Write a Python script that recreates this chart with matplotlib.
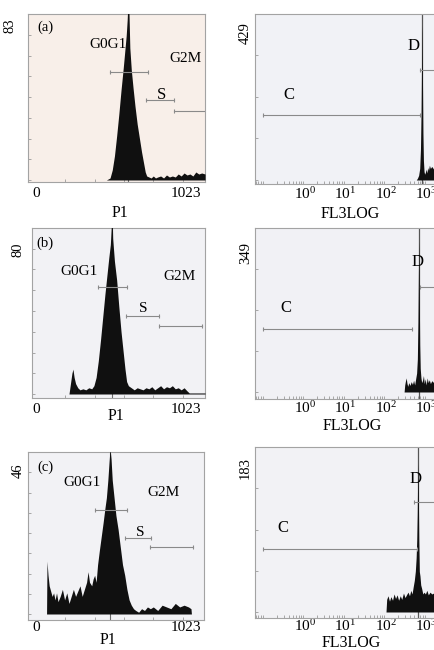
import matplotlib
matplotlib.use('Agg')
import matplotlib.pyplot as plt
from matplotlib.ticker import MultipleLocator, FixedLocator, LogLocator, NullFormatter
from matplotlib.transforms import ScaledTranslation

plt.rcParams['font.family'] = ['Liberation Serif', 'DejaVu Serif']
plt.rcParams['mathtext.fontset'] = 'custom'
plt.rcParams['mathtext.rm'] = 'Liberation Serif'
plt.rcParams['mathtext.it'] = 'Liberation Serif:italic'

# ---------------- data ----------------
panel_letters = ['(a)', '(b)', '(c)']
dna_ymax = [83, 80, 46]
fl3_ymax = [429, 349, 183]
dna_xticks = [0, 1023]
dna_xticklabels = ['0', '1023']
fl3_xticks = [1, 10, 100, 1000]
fl3_xticklabels = [r'$10^0$', r'$10^1$', r'$10^2$', r'$10^3$']
dna_xlabel = 'P1'
fl3_xlabel = 'FL3LOG'

# DNA content histograms (channel, count)
a_ch = [0, 480, 505, 520, 535, 550, 565, 580, 595, 605, 615, 622, 628, 634, 640, 650, 662, 675, 690, 705,
        720, 735, 745, 755, 770, 785, 800, 815, 830, 850, 870, 890, 910, 930, 950, 970, 990, 1010, 1030, 1050,
        1070, 1090, 1110, 1130, 1153]
a_cnt = [0, 0, 1, 5, 12, 22, 33, 45, 56, 64, 72, 80, 90, 84, 66, 55, 46, 37, 28, 21,
         14, 8, 4, 2, 1.5, 1, 2, 1, 1.5, 2, 1, 2.5, 1.5, 2, 1.5, 3, 2, 3.5, 2.5, 3,
         2, 4, 3, 3.5, 3]
b_ch = [0, 225, 235, 245, 252, 260, 270, 285, 300, 320, 340, 360, 380, 395, 410, 425, 440, 455, 470, 485,
        497, 507, 513, 518, 523, 535, 550, 565, 580, 595, 607, 618, 630, 650, 670, 690, 710, 730, 750, 770,
        790, 810, 830, 850, 870, 890, 910, 930, 950, 970, 990, 1010, 1030, 1045, 1153]
b_cnt = [0, 0, 5, 10, 12, 8, 5, 3, 2, 2.5, 2, 3, 2.5, 4, 8, 16, 26, 37, 48, 58,
         66, 72, 80, 90, 75, 64, 55, 42, 30, 20, 12, 6, 4, 3, 2, 3, 2.5, 2, 3, 2.5,
         3.5, 2, 3, 4, 2.5, 3.5, 3, 4, 2.5, 3, 2, 3, 1.5, 0.5, 0.5]
c_ch = [0, 72, 75, 82, 90, 100, 110, 120, 130, 140, 150, 165, 180, 195, 210, 225, 240, 255, 270, 285,
        300, 315, 330, 345, 355, 365, 380, 390, 400, 410, 420, 432, 445, 458, 470, 480, 490, 498, 505, 512,
        520, 530, 545, 560, 575, 590, 605, 620, 635, 650, 665, 680, 700, 720, 740, 760, 780, 800, 830, 860,
        890, 920, 950, 980, 1010, 1040, 1057, 1060, 1146]
c_cnt = [0, 0, 15, 11, 8, 6.5, 5, 6, 4, 6, 3.5, 5, 7, 4, 6, 3, 5, 7, 5, 6.5,
         8, 5, 7, 9, 12, 9, 8, 10, 11, 9, 14, 18, 22, 26, 30, 33, 38, 43, 47, 44,
         38, 34, 28, 24, 19, 14, 11, 7, 4, 2.5, 1.5, 1, 0.5, 1.5, 1, 2, 1.5, 2, 1, 2.5,
         2, 1.5, 3, 2, 2.5, 2, 1.5, 0, 0]

# FL3 (log) histograms (fluorescence, count)
ra_x = [560, 600, 640, 680, 710, 735, 755, 770, 780, 795, 815, 840, 870, 900, 940, 980, 1020, 1070, 1120, 1180,
        1250, 1350, 1500, 1700, 2000]
ra_y = [0, 5, 12, 30, 80, 170, 300, 400, 380, 260, 120, 50, 22, 15, 20, 28, 18, 32, 25, 38,
        30, 35, 28, 32, 30]
rb_x = [280, 290, 300, 315, 330, 345, 365, 390, 420, 450, 480, 510, 540, 570, 595, 615, 630, 645, 655, 665,
        680, 700, 730, 760, 800, 840, 880, 930, 980, 1040, 1100, 1170, 1250, 1350, 1500, 1700, 2000]
rb_y = [0, 15, 22, 30, 18, 12, 20, 14, 22, 16, 25, 15, 28, 40, 70, 150, 250, 320, 290, 200,
        100, 50, 30, 20, 25, 35, 18, 28, 15, 30, 20, 26, 18, 24, 20, 22, 20]
rc_x = [100, 104, 112, 122, 132, 145, 158, 172, 188, 205, 225, 245, 270, 295, 320, 350, 380, 410, 440, 470,
        500, 530, 555, 575, 592, 605, 617, 630, 645, 665, 690, 720, 760, 810, 870, 940, 1020, 1110, 1220, 1350,
        1500, 1700, 2000]
rc_y = [0, 14, 18, 12, 17, 13, 20, 15, 19, 13, 18, 14, 21, 16, 19, 22, 18, 24, 20, 28,
        35, 45, 60, 80, 110, 150, 165, 130, 80, 45, 40, 30, 26, 20, 22, 20, 24, 19, 22, 20,
        21, 18, 20]

# gates: [start, end, level]
g0g1_gate = [[505, 764, 54], [423, 621, 51.6], [402, 621, 29.5]]
s_gate = [[750, 941, 40], [614, 839, 37.6], [607, 784, 21.6]]
g2m_gate = [[941, 1170, 34.5], [839, 1132, 32.8], [777, 1071, 19.0]]
c_gate = [[0.092, 692, 168], [0.092, 438, 134], [0.092, 582, 70]]
d_gate = [[692, 5000, 284], [692, 5000, 223], [490, 5000, 122]]
dna_peak_line = [627, 518, 505]
fl3_peak_line = [774, 653, 617]

dna_hists = [(a_ch, a_cnt), (b_ch, b_cnt), (c_ch, c_cnt)]
fl3_hists = [(ra_x, ra_y), (rb_x, rb_y), (rc_x, rc_y)]

# ---------------- layout (pixels) ----------------
W, H = 434, 650
fig = plt.figure(figsize=(W / 100, H / 100), dpi=100)
fig.patch.set_facecolor('white')

left_rect = [(28, 14, 205, 182), (32, 228, 205, 398), (28, 452, 204, 620)]
right_rect = [(255, 14, 470, 184), (255, 228, 470, 399), (255, 447, 470, 618)]
left_base = [180, 394, 614]
right_base = [180, 392, 612]
left_bg = ['#f8efe9', '#f2f2f5', '#f2f2f5']
right_bg = ['#f1f2f6', '#f1f1f5', '#f2f2f5']

left_ypad = [11, 7, 3]
left_yoff = [4, 15, 11]
right_ypad = [3, 3, 3]
right_yoff = [8, 14, 10]
left_xpad = [3.5, 3.5, 1.0]
right_xpad = [1.5, 1.0, 0.3]

left_xlabel_pos = [(120, 205), (116, 408), (108, 632)]
right_xlabel_pos = [(350, 206), (352, 418), (351, 635)]

left_text_pos = [
    {'letter': (45, 27), 'G0G1': (108, 45), 'G2M': (185, 58), 'S': (162, 95)},
    {'letter': (45, 243), 'G0G1': (79, 272), 'G2M': (180, 277), 'S': (143, 309)},
    {'letter': (45, 467), 'G0G1': (82, 482), 'G2M': (164, 493), 'S': (140, 532)},
]
right_text_pos = [
    {'C': (289, 95), 'D': (414, 46)},
    {'C': (286, 308), 'D': (418, 262)},
    {'C': (283, 528), 'D': (416, 479)},
]

X0_PX, CH_PER_PX = 36, 6.82          # linear channel axis mapping
LOG0_PX, PX_PER_DEC = 305, 40.5      # log axis mapping

spine_c = '#a3a3a3'
gate_c = '#8a8a8a'
fill_c = '#101010'


def fig_rect(r):
    L, T, R, B = r
    return [L / W, 1 - B / H, (R - L) / W, (B - T) / H]


def ax_frac(r, x, y):
    L, T, R, B = r
    return (x - L) / (R - L), (B - y) / (B - T)


def style_axes(ax, bg):
    ax.set_facecolor(bg)
    for s in ax.spines.values():
        s.set_color(spine_c)
        s.set_linewidth(0.8)
    ax.tick_params(axis='both', which='major', length=0, labelsize=11, colors='black')
    ax.tick_params(axis='both', which='minor', length=2.5, width=0.6, direction='in', colors='#9a9a9a')


def offset_ylabels(ax, off_px):
    for lab in ax.get_yticklabels():
        lab.set_transform(lab.get_transform() + ScaledTranslation(0, -off_px / 100, fig.dpi_scale_trans))


for i in range(3):
    # ---------- DNA histogram panel ----------
    r = left_rect[i]
    L, T, R, B = r
    ax = fig.add_axes(fig_rect(r))
    style_axes(ax, left_bg[i])
    ch, cnt = dna_hists[i]
    ymax = dna_ymax[i]
    ax.set_xlim((L - X0_PX) * CH_PER_PX, (R - X0_PX) * CH_PER_PX)
    base = left_base[i]
    ax.set_ylim(-(B - base) / (base - T) * ymax, ymax)
    ax.axvline(dna_peak_line[i], color='#6a6a6a', lw=0.8, zorder=2)
    ax.fill_between(ch, cnt, 0, color=fill_c, lw=0, zorder=3)
    for g in (g0g1_gate[i], s_gate[i], g2m_gate[i]):
        ax.plot([g[0], g[1]], [g[2], g[2]], color=gate_c, lw=0.8, marker='|', ms=3.5,
                mew=0.8, zorder=4)
    ax.set_xticks(dna_xticks)
    ax.set_xticklabels(dna_xticklabels)
    ax.xaxis.set_minor_locator(MultipleLocator(200))
    ax.yaxis.set_minor_locator(MultipleLocator(ymax / 8))
    ax.tick_params(axis='x', which='major', pad=left_xpad[i])
    ax.set_yticks([ymax])
    ax.set_yticklabels([str(ymax)], rotation=90, va='top', fontsize=10.5)
    ax.tick_params(axis='y', which='major', pad=left_ypad[i] * 0.72)
    offset_ylabels(ax, left_yoff[i])
    ax.set_xlabel(dna_xlabel, fontsize=11.5)
    lx, ly = ax_frac(r, *left_xlabel_pos[i])
    ax.xaxis.set_label_coords(lx, ly)
    tp = left_text_pos[i]
    ax.text(*ax_frac(r, *tp['letter']), panel_letters[i], transform=ax.transAxes,
            ha='center', va='center', fontsize=10.5, zorder=5)
    ax.text(*ax_frac(r, *tp['G0G1']), 'G0G1', transform=ax.transAxes,
            ha='center', va='center', fontsize=11, zorder=5)
    ax.text(*ax_frac(r, *tp['G2M']), 'G2M', transform=ax.transAxes,
            ha='center', va='center', fontsize=11, zorder=5)
    ax.text(*ax_frac(r, *tp['S']), 'S', transform=ax.transAxes,
            ha='center', va='center', fontsize=12 if i == 0 else 11, zorder=5)

    # ---------- FL3LOG histogram panel ----------
    r = right_rect[i]
    L, T, R, B = r
    ax = fig.add_axes(fig_rect(r))
    style_axes(ax, right_bg[i])
    ax.set_xscale('log')
    xs, ys = fl3_hists[i]
    ymax = fl3_ymax[i]
    ax.set_xlim(10 ** ((L - LOG0_PX) / PX_PER_DEC), 10 ** ((R - LOG0_PX) / PX_PER_DEC))
    base = right_base[i]
    ax.set_ylim(-(B - base) / (base - T) * ymax, ymax)
    ax.axvline(fl3_peak_line[i], color='#555555', lw=0.9, zorder=2)
    ax.fill_between(xs, ys, 0, color=fill_c, lw=0, zorder=3)
    for g in (c_gate[i], d_gate[i]):
        ax.plot([g[0], g[1]], [g[2], g[2]], color=gate_c, lw=0.8, marker='|', ms=3.5,
                mew=0.8, zorder=4)
    ax.xaxis.set_major_locator(FixedLocator(fl3_xticks))
    ax.set_xticklabels(fl3_xticklabels)
    ax.xaxis.set_minor_locator(LogLocator(base=10, subs=range(2, 10), numticks=20))
    ax.xaxis.set_minor_formatter(NullFormatter())
    ax.yaxis.set_minor_locator(MultipleLocator(ymax / 4))
    ax.tick_params(axis='x', which='major', pad=right_xpad[i])
    ax.set_yticks([ymax])
    ax.set_yticklabels([str(ymax)], rotation=90, va='top', fontsize=10.5)
    ax.tick_params(axis='y', which='major', pad=right_ypad[i] * 0.72)
    offset_ylabels(ax, right_yoff[i])
    ax.set_xlabel(fl3_xlabel, fontsize=11.5)
    lx, ly = ax_frac(r, *right_xlabel_pos[i])
    ax.xaxis.set_label_coords(lx, ly)
    tp = right_text_pos[i]
    ax.text(*ax_frac(r, *tp['C']), 'C', transform=ax.transAxes,
            ha='center', va='center', fontsize=12, zorder=5)
    ax.text(*ax_frac(r, *tp['D']), 'D', transform=ax.transAxes,
            ha='center', va='center', fontsize=12, zorder=5)

fig.savefig('out.png', dpi=100, facecolor='white')
